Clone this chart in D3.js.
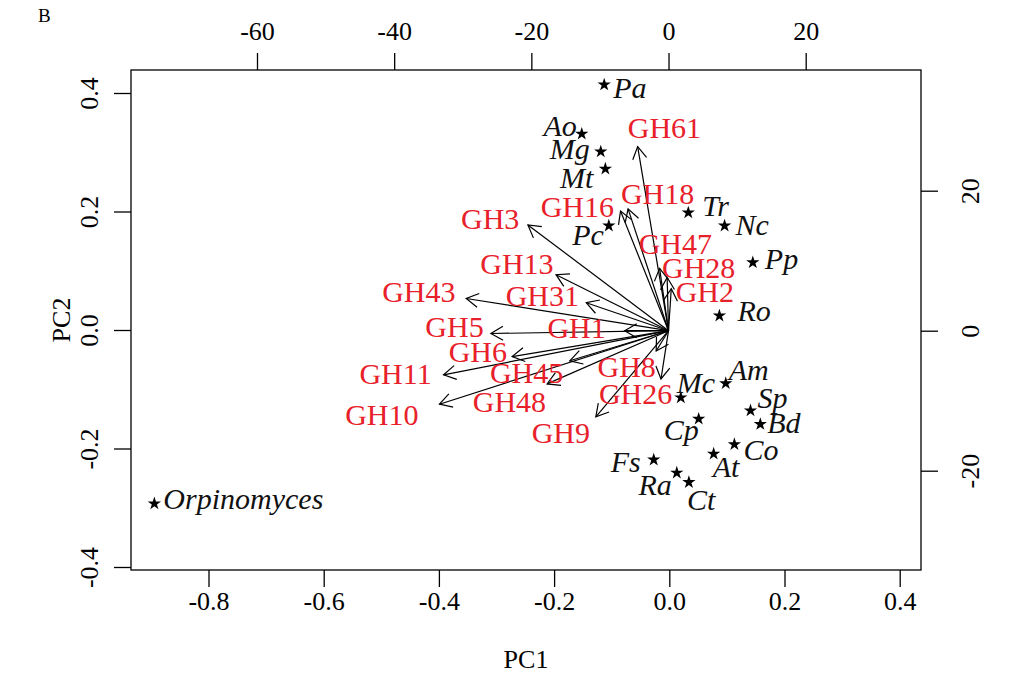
<!DOCTYPE html>
<html>
<head>
<meta charset="utf-8">
<script src="https://cdn.jsdelivr.net/npm/d3@7"></script>
<style>
  body { margin: 0; background: #fff; }
  svg text { font-family: "Liberation Serif", "Times New Roman", serif; }
</style>
</head>
<body>
<svg id="chart"></svg>
<script>
// species scores (PC1 / PC2, bottom & left axes)
var species = ["Pa", "Ao", "Mg", "Mt", "Pc", "Tr", "Nc", "Pp", "Ro", "Am", "Mc", "Sp", "Bd", "Cp", "Co", "At", "Fs", "Ra", "Ct", "Orpinomyces"];
var pc1 = [-0.113, -0.152, -0.119, -0.111, -0.105, 0.033, 0.096, 0.145, 0.087, 0.098, 0.020, 0.141, 0.158, 0.051, 0.113, 0.077, -0.027, 0.013, 0.034, -0.894];
var pc2 = [0.414, 0.331, 0.301, 0.272, 0.176, 0.198, 0.176, 0.114, 0.024, -0.090, -0.114, -0.136, -0.159, -0.150, -0.193, -0.209, -0.219, -0.241, -0.257, -0.293];

// GH family loadings (top & right axes): arrow tips and label positions
var families = ["GH3", "GH13", "GH43", "GH31", "GH5", "GH1", "GH6", "GH11", "GH45", "GH48", "GH10", "GH9", "GH8", "GH26", "GH61", "GH16", "GH18", "GH47", "GH28", "GH2"];
var tipX = [-20.5, -16.4, -29.5, -12.0, -25.9, -6.4, -22.8, -32.8, -14.4, -17.7, -33.4, -10.6, -1.1, -1.8, -4.5, -7.0, -5.9, -1.3, -0.2, 0.4];
var tipY = [15.1, 8.0, 4.6, 4.0, -0.4, 0.0, -3.7, -6.3, -4.3, -7.6, -10.5, -12.3, -6.9, -2.9, 26.3, 17.1, 17.4, 8.9, 7.6, 6.0];
var labX = [-26.0, -22.1, -36.4, -18.4, -31.2, -13.4, -27.8, -39.8, -20.7, -23.2, -41.8, -15.7, -6.1, -4.8, -0.6, -13.3, -1.6, 1.0, 4.4, 5.3];
var labY = [16.1, 9.6, 5.6, 5.1, 0.6, 0.4, -3.0, -6.1, -6.0, -10.1, -12.0, -14.6, -5.1, -9.0, 29.0, 17.7, 19.6, 12.4, 9.1, 5.6];

// axis ticks
var ticksPC1 = [-0.8, -0.6, -0.4, -0.2, 0.0, 0.2, 0.4];
var ticksPC2 = [-0.4, -0.2, 0.0, 0.2, 0.4];
var ticksTop = [-60, -40, -20, 0, 20];
var ticksRight = [-20, 0, 20];

// species label placement: [dx, dy, anchor] relative to the star
var labelPlace = {
  Pa: [9, 13, "start"], Ao: [-5, 2, "end"], Mg: [-11, 7, "end"], Mt: [-12, 19, "end"],
  Pc: [-5, 19, "end"], Tr: [14, 3, "start"], Nc: [11, 9, "start"], Pp: [12, 7, "start"],
  Ro: [18, 5, "start"], Am: [3, -3, "start"], Mc: [-4, -5, "start"], Sp: [7, -3, "start"],
  Bd: [7, 9, "start"], Cp: [0, 21, "end"], Co: [9, 16, "start"], At: [-1, 23, "start"],
  Fs: [-13, 12, "end"], Ra: [-5, 22, "end"], Ct: [-2, 28, "start"], Orpinomyces: [9, 5, "start"]
};

var width = 1022, height = 696;
var box = {left: 131, right: 921, top: 70, bottom: 570};

var svg = d3.select("#chart").attr("width", width).attr("height", height);

var x = d3.scaleLinear().domain([-0.8, 0.2]).range([208.5, 784.5]);
var y = d3.scaleLinear().domain([-0.4, 0.4]).range([567, 93]);
var x2 = d3.scaleLinear().domain([-60, 20]).range([257, 805.7]);
var y2 = d3.scaleLinear().domain([-20, 20]).range([470.7, 190.7]);

var tickFont = 26;
// R style labels: plain hyphen for negatives
var fmt1 = function(d) { return d3.format(".1f")(d).replace("\u2212", "-"); };
var fmt0 = function(d) { return d3.format("d")(d).replace("\u2212", "-"); };

// axes
var axB = d3.axisBottom(x).tickValues(ticksPC1).tickSize(17).tickPadding(3).tickFormat(fmt1);
var axL = d3.axisLeft(y).tickValues(ticksPC2).tickSize(17).tickFormat(fmt1);
var axT = d3.axisTop(x2).tickValues(ticksTop).tickSize(17).tickPadding(13).tickFormat(fmt0);
var axR = d3.axisRight(y2).tickValues(ticksRight).tickSize(17).tickFormat(fmt0);

function styleAxis(g) {
  g.select(".domain").remove();
  g.selectAll(".tick line").attr("stroke", "#000").attr("stroke-width", 1.3);
  g.selectAll(".tick text").attr("fill", "#000").style("font-size", tickFont + "px")
    .style("font-family", "'Liberation Serif', 'Times New Roman', serif");
}

svg.append("g").attr("transform", "translate(0," + box.bottom + ")").call(axB).call(styleAxis)
  .selectAll(".tick text").attr("dy", "0.78em");
svg.append("g").attr("transform", "translate(0," + box.top + ")").call(axT).call(styleAxis);

var gl = svg.append("g").attr("transform", "translate(" + box.left + ",0)").call(axL).call(styleAxis);
gl.selectAll(".tick text")
  .attr("x", null).attr("dy", null)
  .attr("text-anchor", "middle")
  .attr("transform", "translate(-33,0) rotate(-90)");

var gr = svg.append("g").attr("transform", "translate(" + box.right + ",0)").call(axR).call(styleAxis);
gr.selectAll(".tick text")
  .attr("x", null).attr("dy", null)
  .attr("text-anchor", "middle")
  .attr("transform", "translate(58,0) rotate(-90)");

// plot frame
svg.append("rect")
  .attr("x", box.left).attr("y", box.top)
  .attr("width", box.right - box.left).attr("height", box.bottom - box.top)
  .attr("fill", "none").attr("stroke", "#000").attr("stroke-width", 1.3);

// titles
svg.append("text").attr("x", 38).attr("y", 22).style("font-size", "19px").text("B");
svg.append("text").attr("x", (box.left + box.right) / 2).attr("y", 668)
  .attr("text-anchor", "middle").style("font-size", "26px").text("PC1");
svg.append("text").attr("transform", "translate(70," + (box.top + box.bottom) / 2 + ") rotate(-90)")
  .attr("text-anchor", "middle").style("font-size", "26px").text("PC2");

// loadings arrows
var ox = x2(0), oy = y2(0);
var arrows = svg.append("g").attr("stroke", "#000").attr("stroke-width", 1.2).attr("fill", "none");
var headLen = 14, headAng = Math.PI / 6;
families.forEach(function(f, i) {
  var tx = x2(tipX[i]), ty = y2(tipY[i]);
  var a = Math.atan2(ty - oy, tx - ox);
  arrows.append("line").attr("x1", ox).attr("y1", oy).attr("x2", tx).attr("y2", ty);
  var p1 = [tx - headLen * Math.cos(a - headAng), ty - headLen * Math.sin(a - headAng)];
  var p2 = [tx - headLen * Math.cos(a + headAng), ty - headLen * Math.sin(a + headAng)];
  arrows.append("path").attr("d", "M" + p1 + "L" + tx + "," + ty + "L" + p2);
});

svg.append("g").selectAll("text")
  .data(families)
  .enter()
  .append("text")
  .attr("x", function(d, i) { return x2(labX[i]); })
  .attr("y", function(d, i) { return y2(labY[i]); })
  .attr("dy", "0.35em")
  .attr("text-anchor", "middle")
  .attr("fill", "#e8202a")
  .style("font-size", "30px")
  .text(function(d) { return d; });

// species stars + labels
var star = d3.symbol().type(d3.symbolStar).size(55);
var sp = svg.append("g");
sp.selectAll("path")
  .data(species)
  .enter()
  .append("path")
  .attr("d", star)
  .attr("transform", function(d, i) { return "translate(" + x(pc1[i]) + "," + y(pc2[i]) + ")"; })
  .attr("fill", "#000");

sp.selectAll("text")
  .data(species)
  .enter()
  .append("text")
  .attr("x", function(d, i) { return x(pc1[i]) + labelPlace[d][0]; })
  .attr("y", function(d, i) { return y(pc2[i]) + labelPlace[d][1]; })
  .attr("text-anchor", function(d) { return labelPlace[d][2]; })
  .style("font-style", "italic")
  .style("font-size", "30px")
  .attr("fill", "#111")
  .text(function(d) { return d; });
</script>
</body>
</html>
